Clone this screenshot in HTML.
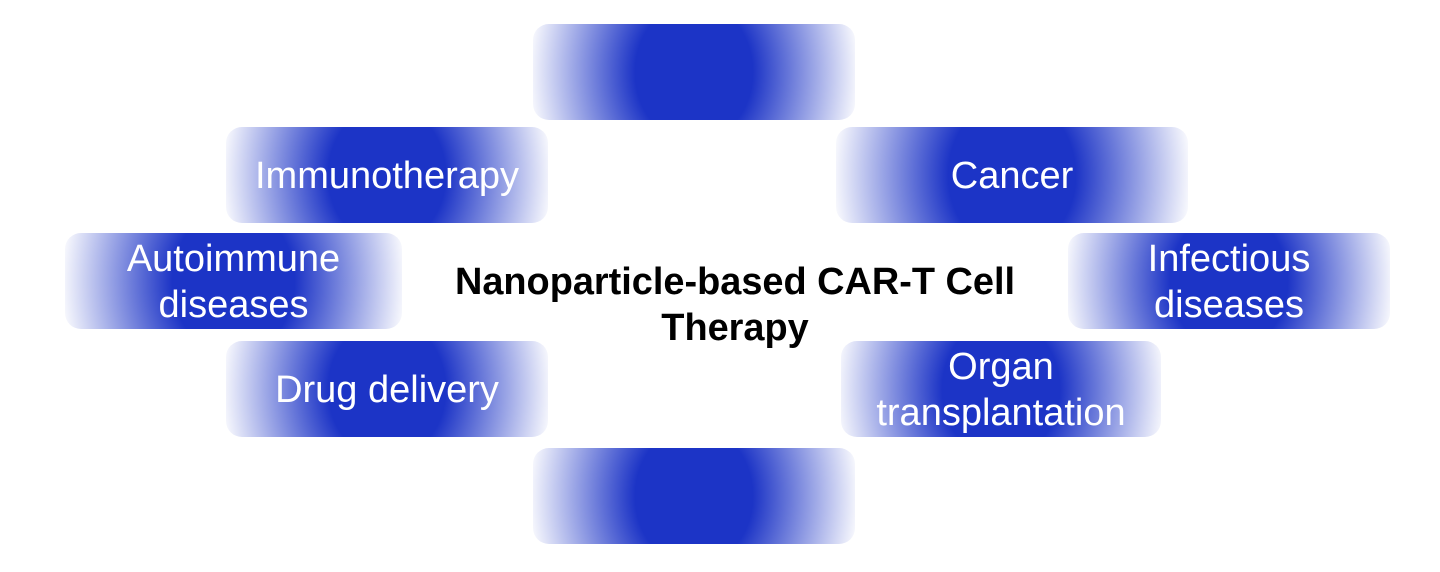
<!DOCTYPE html>
<html><head><meta charset="utf-8"><style>
html,body{margin:0;padding:0;background:#fff}
body{width:1440px;height:572px;position:relative;overflow:hidden;font-family:"Liberation Sans",Arial,sans-serif}
.b{--r:168px 200px;position:absolute;box-sizing:border-box;padding-top:2px;height:96px;border-radius:16px;display:flex;align-items:center;justify-content:center;text-align:center;color:#fff;font-size:38px;line-height:46px;
background:radial-gradient(ellipse var(--r) at center,#1c34c6 0,#1c34c6 35%,rgba(28,52,198,0) 100%)}
.t{position:absolute;left:385px;width:700px;top:259px;text-align:center;font-weight:bold;font-size:37.9px;line-height:46px;color:#000}
</style></head><body>
<div class="b" style="left:533px;top:24px;width:322px"></div>
<div class="b" style="left:226px;top:127px;width:322px">Immunotherapy</div>
<div class="b" style="left:836px;top:127px;width:352px;--r:182px 218px">Cancer</div>
<div class="b" style="left:65px;top:233px;width:337px;--r:175px 210px">Autoimmune<br>diseases</div>
<div class="b" style="left:1068px;top:233px;width:322px">Infectious<br>diseases</div>
<div class="b" style="left:226px;top:341px;width:322px">Drug delivery</div>
<div class="b" style="left:841px;top:341px;width:320px">Organ<br>transplantation</div>
<div class="b" style="left:533px;top:448px;width:322px"></div>
<div class="t">Nanoparticle-based CAR-T Cell<br>Therapy</div>
</body></html>
